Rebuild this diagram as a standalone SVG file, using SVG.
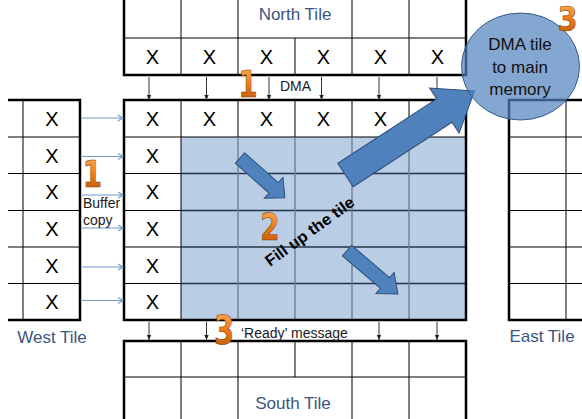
<svg xmlns="http://www.w3.org/2000/svg" width="582" height="419" viewBox="0 0 582 419">
  <defs>
    <style>
      .thick{stroke:#000;stroke-width:2.5;fill:none}
      .thin{stroke:#000;stroke-width:1;fill:none}
      .bh{stroke:#26364a;stroke-width:1.3}
      .bv{stroke:#6a7b91;stroke-width:1.3}
      .x{font-family:"Liberation Sans",Arial,sans-serif;font-size:20px;fill:#000;text-anchor:middle}
      .lbl{font-family:"Liberation Sans",Arial,sans-serif;font-size:14px;fill:#1a1a1a}
      .mem{font-family:"Liberation Sans",Arial,sans-serif;font-size:17px;fill:#111;text-anchor:middle}
      .tile{font-family:"Liberation Sans",Arial,sans-serif;font-size:17px;fill:#3b5580;text-anchor:middle}
      .num{font-family:"DejaVu Sans",sans-serif;font-weight:bold;font-size:37px;fill:url(#og);stroke:#8a3f05;stroke-width:0.6;text-anchor:middle}
      .barrow{fill:#4f81bd;stroke:#2f4f78;stroke-width:1}
      .dn{stroke:#333;stroke-width:1;marker-end:url(#mk)}
      .bl{stroke:#7197cc;stroke-width:1.2;marker-end:url(#mb)}
    </style>
    <linearGradient id="og" x1="0" y1="0" x2="0" y2="1">
      <stop offset="0" stop-color="#fbb565"/>
      <stop offset="0.5" stop-color="#ee7a16"/>
      <stop offset="1" stop-color="#b2520a"/>
    </linearGradient>
    <marker id="mk" markerWidth="6" markerHeight="6" refX="5" refY="3" orient="auto" markerUnits="userSpaceOnUse">
      <path d="M0,0.8 L5,3 L0,5.2 Z" fill="#222"/>
    </marker>
    <marker id="mb" markerWidth="8" markerHeight="8" refX="6" refY="4" orient="auto" markerUnits="userSpaceOnUse">
      <path d="M1,1 L6,4 L1,7" fill="none" stroke="#7197cc" stroke-width="1.1"/>
    </marker>
  </defs>
  <rect width="582" height="419" fill="#fff"/>

  <!-- North tile -->
  <g id="north-tile">
    <path class="thin" d="M124,38 H466 M181,0 V75 M238,0 V75 M295,38 V75 M352,0 V75 M409,0 V75"/>
    <path class="thick" d="M124,0 V75 H466 V0"/>
    <text class="tile" x="295" y="20">North Tile</text>
    <text class="x" x="152.5" y="64">X</text>
    <text class="x" x="209.5" y="64">X</text>
    <text class="x" x="266.5" y="64">X</text>
    <text class="x" x="323.5" y="64">X</text>
    <text class="x" x="380.5" y="64">X</text>
    <text class="x" x="437.5" y="64">X</text>
  </g>

  <!-- South tile -->
  <g id="south-tile">
    <path class="thin" d="M124,377 H466 M181,341 V419 M238,341 V419 M295,341 V377 M352,341 V419 M409,341 V419"/>
    <path class="thick" d="M124,419 V341 H466 V419"/>
    <text class="tile" x="293" y="409">South Tile</text>
  </g>

  <!-- West tile -->
  <g id="west-tile">
    <path class="thin" d="M8,137 H80 M8,173.5 H80 M8,210.5 H80 M8,247 H80 M8,283.5 H80 M23,100 V320"/>
    <path class="thick" d="M8,100 H80 V320 H8"/>
    <text class="x" x="52" y="125.5">X</text>
    <text class="x" x="52" y="162.5">X</text>
    <text class="x" x="52" y="199">X</text>
    <text class="x" x="52" y="235.5">X</text>
    <text class="x" x="52" y="272.5">X</text>
    <text class="x" x="52" y="309">X</text>
    <text class="tile" x="52" y="343">West Tile</text>
  </g>

  <!-- East tile -->
  <g id="east-tile">
    <path class="thin" d="M509,137 H582 M509,173.5 H582 M509,210.5 H582 M509,247 H582 M509,283.5 H582 M566,100 V320"/>
    <path class="thick" d="M582,100 H509 V320 H582"/>
    <text class="tile" x="542" y="342">East Tile</text>
  </g>

  <!-- Central tile -->
  <g id="center-tile">
    <rect x="181" y="137" width="285" height="183" fill="#b9cde5"/>
    <path class="thin" d="M124,137 H181 M124,173.5 H181 M124,210.5 H181 M124,247 H181 M124,283.5 H181 M181,100 V320 M181,137 H466 M238,100 V137 M295,100 V137 M352,100 V137 M409,100 V137"/>
    <path class="bh" d="M181,173.5 H466 M181,210.5 H466 M181,247 H466 M181,283.5 H466"/>
    <path class="bv" d="M238,137 V320 M295,137 V320 M352,137 V320 M409,137 V320"/>
    <rect class="thick" x="124" y="100" width="342" height="220"/>
    <text class="x" x="152.5" y="125.5">X</text>
    <text class="x" x="209.5" y="125.5">X</text>
    <text class="x" x="266.5" y="125.5">X</text>
    <text class="x" x="323.5" y="125.5">X</text>
    <text class="x" x="380.5" y="125.5">X</text>
    <text class="x" x="152.5" y="162.5">X</text>
    <text class="x" x="152.5" y="199">X</text>
    <text class="x" x="152.5" y="235.5">X</text>
    <text class="x" x="152.5" y="272.5">X</text>
    <text class="x" x="152.5" y="309">X</text>
  </g>

  <!-- Connectors -->
  <g id="connectors">
    <line class="dn" x1="149" y1="77" x2="149" y2="100"/>
    <line class="dn" x1="206.5" y1="77" x2="206.5" y2="100"/>
    <line class="dn" x1="269" y1="77" x2="269" y2="100"/>
    <line class="dn" x1="321.5" y1="77" x2="321.5" y2="100"/>
    <line class="dn" x1="379" y1="77" x2="379" y2="100"/>
    <line class="dn" x1="437" y1="77" x2="437" y2="100"/>
    <line class="dn" x1="149" y1="322" x2="149" y2="340"/>
    <line class="dn" x1="206.5" y1="322" x2="206.5" y2="340"/>
    <line class="dn" x1="379" y1="322" x2="379" y2="340"/>
    <line class="dn" x1="437" y1="322" x2="437" y2="340"/>
    <line class="bl" x1="82" y1="118" x2="123" y2="118"/>
    <line class="bl" x1="82" y1="156.5" x2="123" y2="156.5"/>
    <line class="bl" x1="82" y1="195" x2="123" y2="195"/>
    <line class="bl" x1="82" y1="228" x2="123" y2="228"/>
    <line class="bl" x1="82" y1="267" x2="123" y2="267"/>
    <line class="bl" x1="82" y1="300.5" x2="123" y2="300.5"/>
    <path class="barrow" transform="translate(240,158) rotate(41.6)" d="M0,-7 L45,-7 L45,-14 L60,0 L45,14 L45,7 L0,7 Z"/>
    <path class="barrow" transform="translate(347,250.5) rotate(40.5)" d="M0,-7 L50,-7 L50,-14 L67,0 L50,14 L50,7 L0,7 Z"/>
    <path class="barrow" transform="translate(345.5,175) rotate(-33.1)" d="M0,-14 L118,-14 L118,-27 L154,0 L118,27 L118,14 L0,14 Z"/>
  </g>

  <!-- Labels -->
  <g id="labels">
    <text class="lbl" x="280" y="90.5">DMA</text>
    <text class="lbl" x="83" y="208">Buffer</text>
    <text class="lbl" x="83" y="225">copy</text>
    <text class="lbl" x="241" y="338">‘Ready’ message</text>
    <text font-family="Liberation Sans, Arial, sans-serif" font-weight="bold" font-size="16" fill="#000" textLength="106" lengthAdjust="spacingAndGlyphs" transform="translate(270,267) rotate(-36)">Fill up the tile</text>
    <text class="num" transform="translate(248,97) scale(0.75,1)">1</text>
    <text class="num" transform="translate(92.5,187) scale(0.75,1)">1</text>
    <text class="num" transform="translate(270,240) scale(0.75,1)">2</text>
    <text class="num" transform="translate(224,344) scale(0.78,1.05)">3</text>
  </g>

  <!-- DMA to memory ellipse -->
  <g id="dma-memory">
    <ellipse cx="520.5" cy="66.5" rx="59" ry="53.5" fill="#4f81bd" fill-opacity="0.7" stroke="#385d8a" stroke-width="1"/>
    <text class="mem" x="520" y="50">DMA tile</text>
    <text class="mem" x="520" y="72.5">to main</text>
    <text class="mem" x="520" y="95">memory</text>
    <text class="num" transform="translate(567.5,31) scale(0.78,0.9)">3</text>
  </g>
</svg>
